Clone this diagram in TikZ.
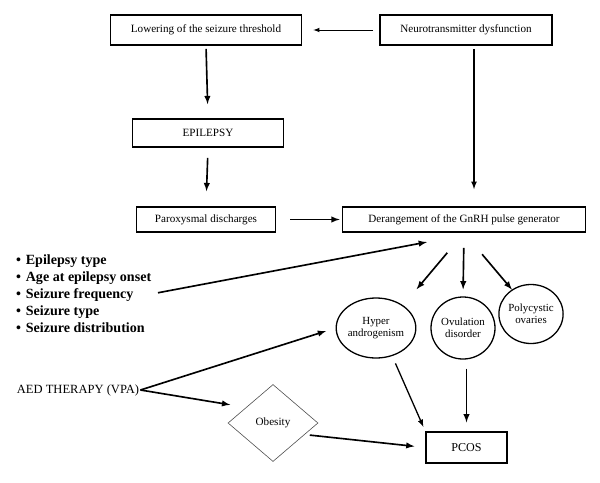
\documentclass[tikz,border=0pt]{standalone}
\usepackage{fontspec}
\setmainfont{Liberation Serif}
\usetikzlibrary{shapes.geometric,positioning}

\tikzset{
	lbox/.style={draw,line width=1.5pt,inner sep=0pt,font=\fontsize{9.5}{11}\selectfont},
	oval/.style={draw,ellipse,line width=1.1pt,inner sep=0pt,align=center,font=\fontsize{9.3}{10.5}\selectfont},
	kite/.style={draw=black!70,diamond,line width=0.5pt,inner sep=0pt,font=\fontsize{9.5}{11}\selectfont},
	link/.style={->,line width=1.4pt}
}
\newcommand{\pt}{\textbullet\hspace{4pt}}

\begin{document}
\begin{tikzpicture}[x=0.03cm,y=-0.03cm,>=latex]
		\useasboundingbox (0,0) rectangle (600,482);
		\draw (206,30) node [lbox,minimum width=5.73cm,minimum height=0.9cm] (lower){Lowering of the seizure threshold};
		\draw (466,30) node [lbox,minimum width=5.16cm,minimum height=0.9cm] (neuro){Neurotransmitter dysfunction};
		\draw (208,133) node [lbox,minimum width=4.53cm,minimum height=0.84cm] (epi){EPILEPSY};
		\draw (206,219.5) node [lbox,minimum width=4.17cm,minimum height=0.75cm] (parox){Paroxysmal discharges};
		\draw (464,219.5) node [lbox,minimum width=7.29cm,minimum height=0.75cm] (gnrh){Derangement of the GnRH pulse generator};
		\draw (16,294) node [anchor=west,align=left,inner sep=0pt,font=\fontsize{12}{14.5}\selectfont\bfseries] (factors){%
			\pt Epilepsy type\\
			\pt Age at epilepsy onset\\
			\pt Seizure frequency\\
			\pt Seizure type\\
			\pt Seizure distribution};
		\draw (78,390) node [inner sep=1pt,font=\fontsize{10.7}{12}\selectfont] (aed){AED THERAPY (VPA)};
		\draw (376,328) node [oval,minimum width=2.34cm,minimum height=1.8cm] (hyper){Hyper\\androgenism};
		\draw (463,328) node [oval,minimum width=1.92cm,minimum height=1.86cm] (ovul){Ovulation\\disorder};
		\draw (531,314) node [oval,minimum width=1.92cm,minimum height=1.77cm] (poly){Polycystic\\ovaries};
		\draw (273,423) node [kite,minimum width=2.7cm,minimum height=2.31cm] (obesity){Obesity};
		\draw (466.5,447.5) node [draw,line width=1.1pt,minimum width=2.43cm,minimum height=0.93cm,font=\fontsize{10.3}{12}\selectfont] (pcos){PCOS};

		\draw
		(neuro) edge [->,line width=0.8pt,shorten <=0.18cm,shorten >=0.33cm] (lower)
		(lower.south) edge [link,shorten <=0.09cm,shorten >=0.42cm] (epi.north)
		([xshift=0.24cm]neuro.south) edge [link,line width=1.2pt,shorten <=0.09cm,shorten >=0.51cm] ([xshift=0.3cm]gnrh.north)
		(epi.south) edge [link,shorten <=0.3cm,shorten >=0.45cm] (parox.north)
		(parox.east) edge [link,shorten <=0.42cm,shorten >=0.06cm] (gnrh.west)
		(factors.east) edge [link,shorten <=0.2cm,shorten >=1.49cm] ([xshift=0.35cm]gnrh.south)
		(gnrh.south) edge [link,shorten <=0.78cm,shorten >=0.63cm] (hyper.40)
			 edge [link,shorten <=0.45cm,shorten >=0.21cm] (ovul.north)
			 edge [link,shorten <=0.84cm] (poly.128)
		(aed.east) edge [link,shorten >=0.3cm] (hyper.west)
			 edge [link,shorten >=0.48cm] (obesity.150)
		(hyper.-60) edge [link,line width=1.1pt,shorten <=0.24cm,shorten >=0.15cm] (pcos.north west)
		(ovul.south -| pcos.north) edge [link,shorten <=0.27cm,shorten >=0.27cm] (pcos.north)
		(obesity.-20) edge [link,shorten <=0.15cm,shorten >=0.33cm] (pcos.west);
	\end{tikzpicture}
\end{document}
